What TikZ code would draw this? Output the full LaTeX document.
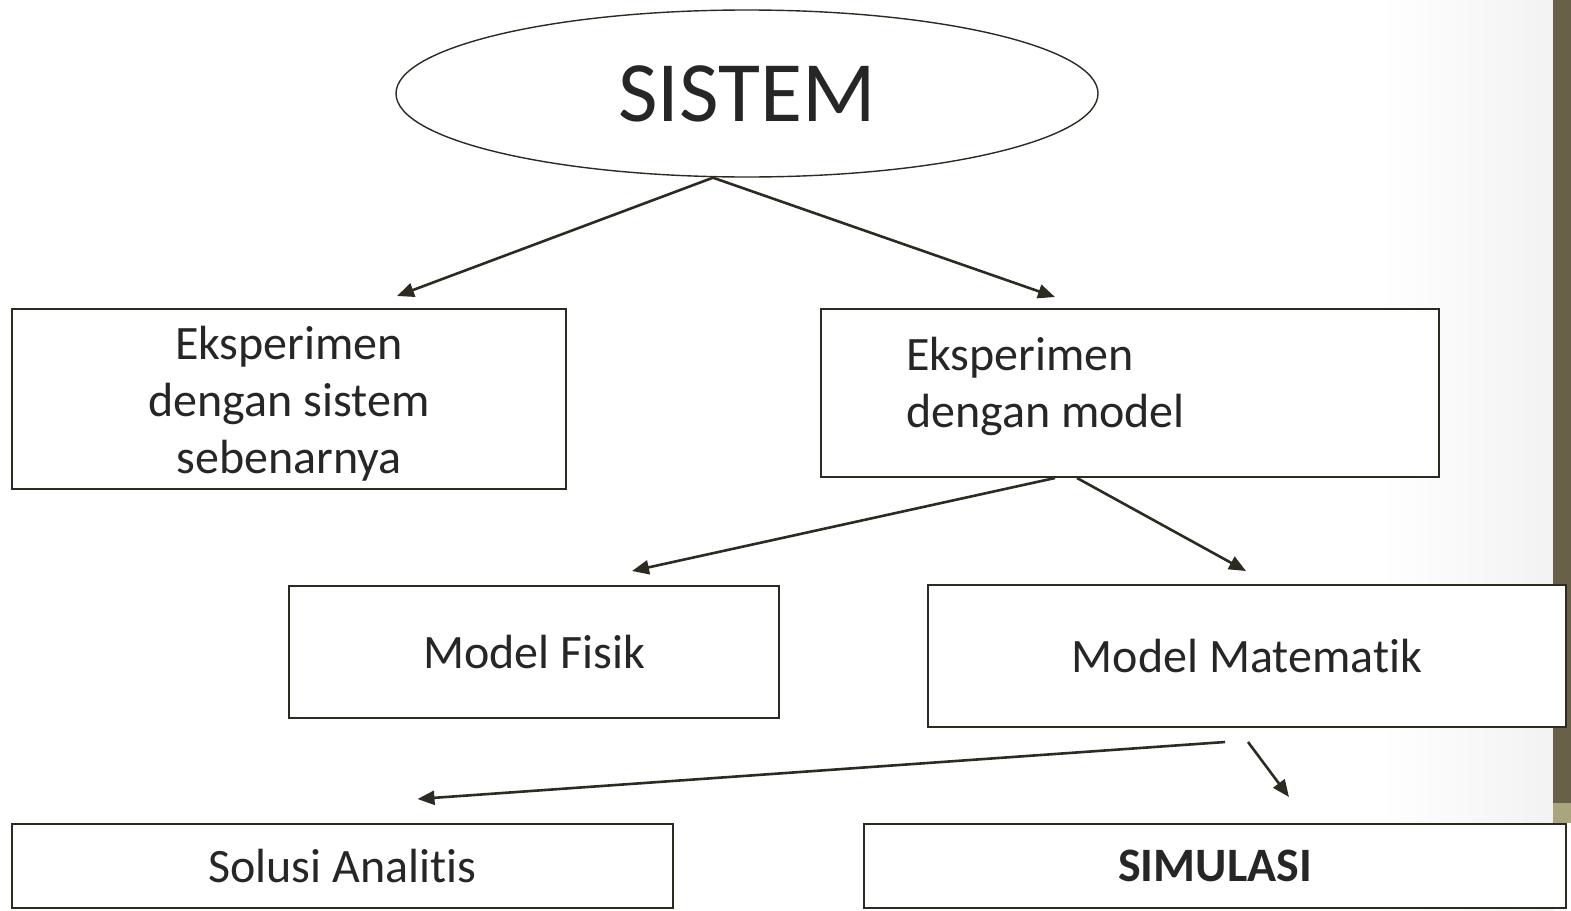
\documentclass[tikz,border=0pt]{standalone}
\usepackage{fontspec}
\setmainfont{Carlito}[RawFeature={-liga;-dlig;-clig}]
\usetikzlibrary{arrows.meta,shapes.geometric}
\definecolor{ink}{HTML}{2D2A21}
\definecolor{txt}{HTML}{262626}
\definecolor{bar}{HTML}{686049}
\definecolor{khaki}{HTML}{A9A57C}
\tikzset{
  box/.style={draw=ink, line width=2pt, fill=white, text=txt, inner sep=0pt, font=\fontsize{48}{57}\selectfont},
  boxtext/.style={text=txt, inner sep=0pt, font=\fontsize{48}{57}\selectfont},
  conn/.style={draw=ink, line width=2.6pt, -{Triangle[length=17pt,width=14pt]}},
}
\begin{document}
\begin{tikzpicture}[x=1pt,y=-1pt]
\useasboundingbox (0,0) rectangle (1571,910);
\fill[white] (0,0) rectangle (1571,910);
\shade[left color=white, right color=black!5] (1380,0) rectangle (1554,910);
\fill[bar] (1553,0) rectangle (1571,803);
\fill[khaki] (1553,803) rectangle (1571,823);

\node[ellipse, draw=ink, line width=1.4pt, minimum width=702pt, minimum height=167pt, inner sep=0pt, text=txt,
  font=\fontsize{86}{90}\selectfont] (sis) at (747,93.5) {SISTEM};

\node[box, minimum width=554pt, minimum height=180pt,
  label={[boxtext, align=center, yshift=-5pt]center:Eksperimen\\dengan sistem\\sebenarnya}] (b1) at (289,399) {};

\node[box, minimum width=618pt, minimum height=168pt,
  label={[boxtext, text width=448pt, align=flush left, yshift=7pt]center:Eksperimen\\dengan model}] (b2) at (1130,393) {};

\node[box, minimum width=490pt, minimum height=132pt] (b3) at (534,652) {Model Fisik};

\node[box, minimum width=638pt, minimum height=142pt] (b4) at (1247,656) {Model Matematik};

\node[box, minimum width=661pt, minimum height=84pt] (b5) at (342.5,866) {Solusi Analitis};

\node[box, minimum width=702pt, minimum height=84pt, font=\fontsize{48}{57}\selectfont\bfseries] (b6) at (1215,866) {SIMULASI};

\draw[conn] ([xshift=-34pt]sis.south) -- ([shift={(108,-12)}]b1.north);
\draw[conn] ([xshift=-34pt]sis.south) -- ([shift={(-75,-11)}]b2.north);
\draw[conn] ([xshift=-75pt]b2.south) -- ([shift={(98,-14)}]b3.north);
\draw[conn] ([xshift=-53pt]b2.south) -- ([shift={(-1,-13)}]b4.north);
\draw[conn] ([shift={(-22,14)}]b4.south) -- ([shift={(75,-24)}]b5.north);
\draw[conn] ([shift={(1,14)}]b4.south) -- ([shift={(74,-26)}]b6.north);
\end{tikzpicture}
\end{document}
